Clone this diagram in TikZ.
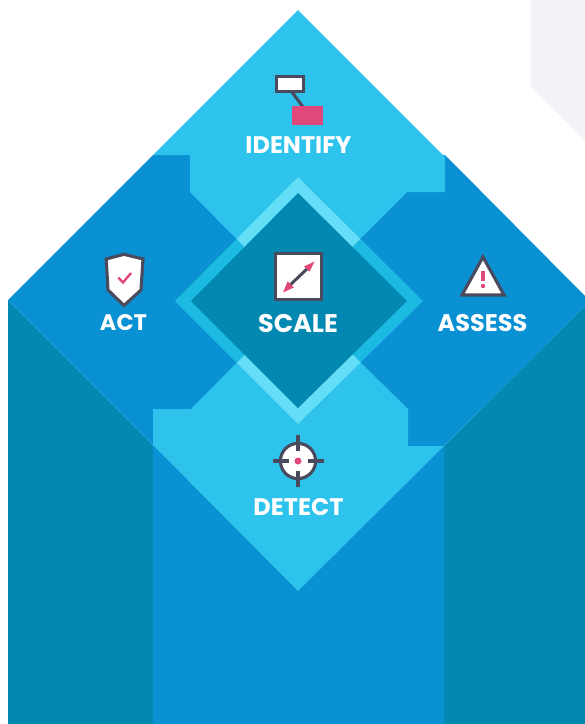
\documentclass[tikz,border=0pt]{standalone}
\usepackage{fontspec}
\setmainfont{Poppins}
\definecolor{cteal}{HTML}{0388B1}
\definecolor{cblue}{HTML}{0A91D3}
\definecolor{clight}{HTML}{2DC3EC}
\definecolor{cring}{HTML}{1CB9E3}
\definecolor{cringl}{HTML}{64DDF6}
\definecolor{cpink}{HTML}{E0487A}
\definecolor{cdark}{HTML}{4A4A5E}
\definecolor{cgrey}{HTML}{F2F3F6}
\tikzset{
  lbl/.style={text=white,font=\bfseries\fontsize{24}{26}\selectfont,inner sep=0pt,anchor=center},
  icon/.style={draw=cdark,line width=3.1pt,fill=white,line join=miter},
  iconline/.style={draw=cdark,line width=3.1pt},
  pinkfill/.style={fill=cpink,draw=none},
}
\begin{document}
\begin{tikzpicture}[x=1pt,y=-1pt]
\useasboundingbox (0,0) rectangle (585,724);
\fill[white] (0,0) rectangle (585,724);
% background
\fill[cgrey] (531,0) -- (585,0) -- (585,140) -- (531,87) -- cycle;
\fill[cteal] (8,300) -- (153,445) -- (153,724) -- (8,724) -- cycle;
\fill[cteal] (585,306) -- (444,446) -- (444,724) -- (585,724) -- cycle;
\fill[cblue] (8,300) -- (153,155) -- (445,155) -- (585,296) -- (585,306) -- (444,446) -- (444,724) -- (153,724) -- (153,445) -- cycle;
% quadrants
\fill[clight] (298,10) -- (445,157) -- (445,192) -- (407,192) -- (298,301) -- (190,192) -- (190,155) -- (153,155) -- cycle;
\fill[clight] (298,591) -- (444,446) -- (408,446) -- (408,409) -- (298,301) -- (191,409) -- (153,409) -- (153,445) -- cycle;
% centre ring
\fill[cring] (298,177) -- (423,301) -- (298,424) -- (175,301) -- cycle;
\begin{scope}
  \clip (190,192) -- (298,301) -- (407,192) -- (298,100) -- cycle;
  \fill[cringl] (298,177) -- (423,301) -- (298,424) -- (175,301) -- cycle;
\end{scope}
\begin{scope}
  \clip (191,409) -- (298,301) -- (408,409) -- (298,500) -- cycle;
  \fill[cringl] (298,177) -- (423,301) -- (298,424) -- (175,301) -- cycle;
\end{scope}
\fill[cteal] (298,193) -- (407,301) -- (298,408) -- (191,301) -- cycle;
% identify icon
\coordinate (idA) at (292,92);
\coordinate (idB) at (303,107);
\draw[iconline] (idA) -- (idB);
\draw[icon] (276.5,76.5) rectangle (303.5,91.5);
\fill[pinkfill] (292,106) rectangle (323,125);
% scale icon
\draw[icon,line width=3.4pt] (275.7,253.7) rectangle (321.3,299.3);
\coordinate (arA) at (288,287);
\coordinate (arB) at (309,267);
\draw[iconline,line width=3pt] (arA) -- (arB);
\fill[pinkfill] (314.5,261.5) -- (304,266.5) -- (309.5,271.5) -- cycle;
\fill[pinkfill] (283,292.5) -- (287.7,281.2) -- (293.8,287.5) -- cycle;
% shield icon
\draw[icon] (124,254.3) -- (143,259) -- (141,290) -- (124,305.5) -- (108,290) -- (106.2,259) -- cycle;
\draw[cpink,line width=2.4pt] (118.3,277.5) -- (123,282.5) -- (131,273);
% triangle icon
\draw[icon] (483,257) -- (504,295) -- (462,295) -- cycle;
\fill[pinkfill] (481.4,271) rectangle (484.6,281);
\fill[pinkfill] (483,286) circle (2.2);
% target icon
\draw[icon] (298,461) circle (17.6);
\draw[iconline] (298,435) -- (298,451);
\draw[iconline] (298,471) -- (298,487);
\draw[iconline] (273,461) -- (289,461);
\draw[iconline] (308,461) -- (324,461);
\fill[pinkfill] (298,461) circle (3.5);
% labels
\node[lbl] (identify) at (298.5,145.5) {IDENTIFY};
\node[lbl,font=\bfseries\fontsize{22.5}{24}\selectfont] (act) at (123.5,322.7) {ACT};
\node[lbl] (assess) at (482.5,322.7) {ASSESS};
\node[lbl] (detect) at (298.5,507.5) {DETECT};
\node[lbl,font=\bfseries\fontsize{25.5}{27}\selectfont] (scale) at (298,323.7) {SCALE};
\end{tikzpicture}
\end{document}
